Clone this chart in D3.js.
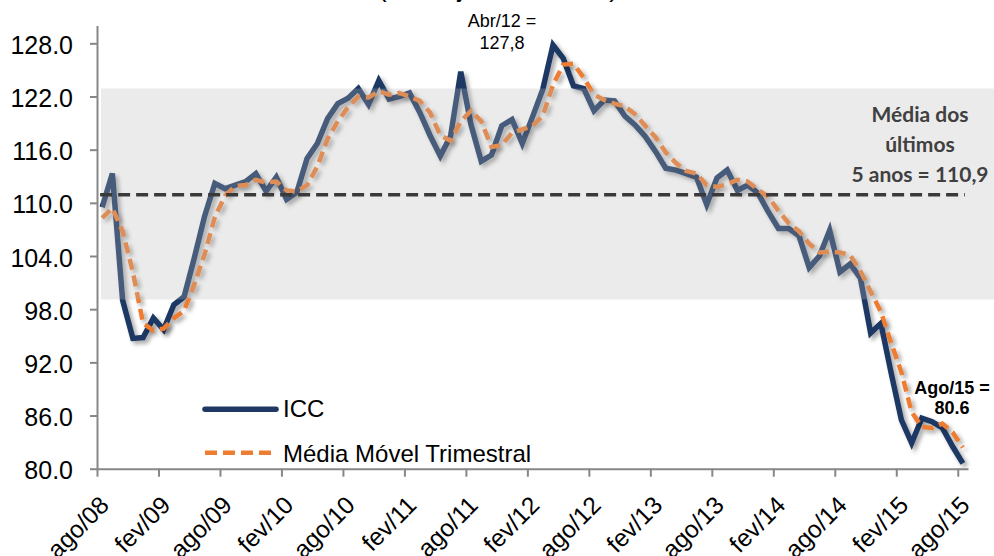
<!DOCTYPE html>
<html>
<head>
<meta charset="utf-8">
<script src="https://cdn.jsdelivr.net/npm/d3@7"></script>
<style>
	body { margin: 0; background: #fff; }
	svg { display: block; }
	text { font-family: "Liberation Sans", Arial, sans-serif; }
</style>
</head>
<body>
<svg id="chart" width="994" height="556"></svg>
<script>
// ICC mensal, ago/08 a ago/15
var icc = [109.5, 113.3, 99.0, 94.7, 94.8, 97.0, 95.7, 98.5, 99.4, 103.8,
	108.5, 112.2, 111.6, 112.0, 112.4, 113.3, 111.3, 112.9, 110.4, 111.2,
	115.0, 116.7, 119.5, 121.2, 121.8, 122.9, 121.1, 123.8, 121.7, 122.0,
	122.4, 120.2, 117.6, 115.3, 117.5, 124.8, 118.8, 114.7, 115.4, 118.7,
	119.4, 116.7, 119.7, 122.8, 127.8, 126.3, 123.2, 122.9, 120.4, 121.6,
	121.5, 119.8, 118.8, 117.5, 115.8, 113.9, 113.7, 113.3, 112.9, 109.8,
	112.8, 113.7, 111.4, 112.0, 111.1, 109.0, 107.1, 107.1, 106.3, 102.7,
	104.0, 106.9, 102.2, 103.1, 101.5, 95.3, 96.4, 90.8, 85.5, 82.9,
	85.7, 85.3, 84.6, 82.5, 80.6]

// media movel trimestral
var mediaMovel = [108.3, 109.4, 106.8, 102.2, 96.4, 95.6, 95.8, 97.0, 97.8, 100.8,
	104.2, 108.4, 110.8, 111.9, 112.0, 112.6, 112.3, 112.4, 111.4, 111.3,
	112.0, 114.1, 117.2, 119.2, 120.8, 122.0, 121.9, 122.6, 122.2, 122.4,
	122.0, 121.5, 120.2, 117.6, 117.0, 119.2, 120.4, 119.2, 116.3, 116.5,
	117.9, 118.3, 118.7, 119.8, 123.3, 125.6, 125.7, 124.1, 122.2, 121.6,
	121.2, 120.9, 120.0, 118.7, 117.4, 115.7, 114.5, 113.6, 113.3, 112.0,
	111.8, 112.1, 112.6, 112.4, 111.5, 110.7, 109.1, 107.7, 106.8, 105.4,
	104.4, 104.5, 104.4, 104.1, 102.3, 100.0, 97.7, 94.2, 90.9, 86.4,
	84.7, 84.6, 85.1, 84.1, 82.4]

var tickLabels = ["ago/08", "fev/09", "ago/09", "fev/10", "ago/10", "fev/11", "ago/11", "fev/12",
	"ago/12", "fev/13", "ago/13", "fev/14", "ago/14", "fev/15", "ago/15"]
var yTicks = [80, 86, 92, 98, 104, 110, 116, 122, 128]
var media5anos = 110.9
var faixa = [99.1, 122.9]

var W = 994, H = 556
var svg = d3.select("#chart")

var x = d3.scaleLinear().domain([0, icc.length]).range([97, 968])
var y = d3.scaleLinear().domain([80, 130]).range([468.7, 25.6])
function px(i) { return x(i + 0.5) }

// sombra das linhas
var defs = svg.append("defs")
var sombra = defs.append("filter").attr("id", "sombra")
	.attr("x", "-5%").attr("y", "-5%").attr("width", "115%").attr("height", "120%")
sombra.append("feDropShadow")
	.attr("dx", 3).attr("dy", 3).attr("stdDeviation", 2)
	.attr("flood-color", "#000").attr("flood-opacity", 0.35)

// titulo (cortado no topo, como no original)
svg.append("text")
	.attr("x", 498).attr("y", -3)
	.attr("text-anchor", "middle")
	.style("font-size", "26px")
	.text("(com ajuste sazonal)")

// eixo y
var gy = svg.append("g")
	.attr("transform", "translate(97,0)")
	.call(d3.axisLeft(y).tickValues(yTicks).tickSize(7).tickSizeOuter(0)
		.tickPadding(17).tickFormat(d3.format(".1f")))
gy.selectAll("text").attr("dy", "0.4em").style("font-size", "25px").attr("fill", "#000")

// eixo x
var gx = svg.append("g")
	.attr("transform", "translate(0," + y(80) + ")")
	.call(d3.axisBottom(x).tickValues(tickLabels.map(function(d, k) { return k * 6 }))
		.tickSize(8).tickSizeOuter(0)
		.tickFormat(function(d, k) { return tickLabels[k] }))
gx.selectAll("text")
	.attr("x", 0).attr("y", 0).attr("dy", 0)
	.attr("text-anchor", "end")
	.attr("transform", "translate(13,38) rotate(-45)")
	.style("font-size", "24.5px").attr("fill", "#000")

svg.selectAll(".domain, .tick line").attr("stroke", "#878787").attr("stroke-width", 2)

// linhas
var linha = d3.line()
	.x(function(d, i) { return px(i) })
	.y(function(d) { return y(d) })

svg.append("path")
	.datum(icc)
	.attr("d", linha)
	.attr("fill", "none")
	.attr("stroke", "#1f3864")
	.attr("stroke-width", 5.5)
	.attr("stroke-linejoin", "miter")
	.attr("filter", "url(#sombra)")

svg.append("path")
	.datum(mediaMovel)
	.attr("d", linha)
	.attr("fill", "none")
	.attr("stroke", "#ed7d31")
	.attr("stroke-width", 4.5)
	.attr("stroke-dasharray", "11,6")
	.attr("filter", "url(#sombra)")

// faixa cinza sobre as linhas
svg.append("rect")
	.attr("x", x(0) + 4)
	.attr("y", y(faixa[1]))
	.attr("width", W - x(0) - 4)
	.attr("height", y(faixa[0]) - y(faixa[1]))
	.attr("fill", "#b8b8b8")
	.attr("fill-opacity", 0.28)

// media dos ultimos 5 anos
svg.append("line")
	.attr("x1", px(0) - 2).attr("x2", px(icc.length - 1) + 2)
	.attr("y1", y(media5anos)).attr("y2", y(media5anos))
	.attr("stroke", "#3a3a3a")
	.attr("stroke-width", 3.5)
	.attr("stroke-dasharray", "12,6")

// anotacoes
function bloco(cx, y0, dy, linhas, estilo) {
	var t = svg.append("text").attr("text-anchor", "middle")
	for (var k in estilo) t.style(k, estilo[k])
	linhas.forEach(function(s, k) {
		t.append("tspan").attr("x", cx).attr("y", y0 + k * dy).text(s)
	})
}
bloco(502, 27, 22, ["Abr/12 =", "127,8"], { "font-size": "18px" })
bloco(952, 394, 20, ["Ago/15 =", "80.6"], { "font-size": "18px", "font-weight": "bold" })
bloco(920, 121.7, 30, ["Média dos", "últimos", "5 anos = 110,9"],
	{ "font-size": "21px", "font-weight": "bold", "font-family": "Lato, sans-serif", "fill": "#404040" })

// legenda
var leg = svg.append("g")
leg.append("line").attr("x1", 205).attr("x2", 276).attr("y1", 409.3).attr("y2", 409.3)
	.attr("stroke", "#1f3864").attr("stroke-width", 5.5).attr("stroke-linecap", "round")
leg.append("text").attr("x", 283).attr("y", 417).style("font-size", "24px").text("ICC")
leg.append("line").attr("x1", 205).attr("x2", 276).attr("y1", 452.7).attr("y2", 452.7)
	.attr("stroke", "#ed7d31").attr("stroke-width", 4.5).attr("stroke-dasharray", "12,6")
leg.append("text").attr("x", 283).attr("y", 461.5).style("font-size", "24px").text("Média Móvel Trimestral")
</script>
</body>
</html>
